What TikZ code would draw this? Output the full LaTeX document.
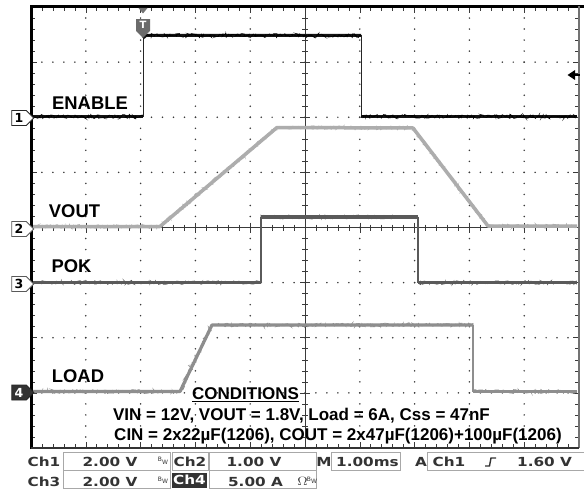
\documentclass[tikz,border=0pt]{standalone}
\usepackage{fontspec}
\setmainfont{Liberation Sans}
\newfontfamily\statfont{DejaVu Sans}
\usepackage{graphicx}
\usetikzlibrary{shapes.symbols,decorations.pathmorphing}
\definecolor{voutc}{HTML}{ADADAD}
\definecolor{pokc}{HTML}{5A5A5A}
\definecolor{loadc}{HTML}{8E8E8E}
\definecolor{dotc}{HTML}{3A3A3A}
\definecolor{boxc}{HTML}{A8A8A8}
\definecolor{statc}{HTML}{333333}
\newcommand\stt[1]{{\statfont\bfseries\fontsize{12.5}{14}\selectfont\scalebox{1.22}[1]{#1}}}
\newcommand\bwicon{{\statfont\fontsize{6}{6}\selectfont B\raisebox{-2.5pt}{W}}}
\pgfmathsetseed{7}
\tikzset{
  enab/.style={draw=black!92, line width=3pt, line join=round},
  edge1/.style={draw=black!85, line width=1pt},
  voutt/.style={draw=voutc, line width=3.5pt, line join=round},
  pokt/.style={draw=pokc, line width=3.2pt, line join=round},
  pokedge/.style={draw=pokc, line width=1.2pt},
  loadt/.style={draw=loadc, line width=3.2pt, line join=round},
  loadedge/.style={draw=loadc, line width=1.2pt},
  fuzz/.style={draw=#1, line width=0.7pt, decorate,
     decoration={random steps, segment length=1.1pt, amplitude=1.9pt}},
  tk/.style={draw=dotc, line width=0.6pt},
  lbl/.style={font=\fontsize{18.4}{20}\selectfont\bfseries, inner sep=0pt, text=black},
  cond/.style={font=\fontsize{17}{19}\selectfont\bfseries, inner sep=0pt, text=black},
  chmark/.style={signal, signal to=east, draw=#1, line width=0.9pt, fill=white,
     minimum width=22pt, minimum height=15pt, inner sep=0pt,
     font=\statfont\bfseries\fontsize{12.5}{12.5}\selectfont},
  stat/.style={inner sep=0pt, text=statc},
  boxl/.style={draw=boxc, line width=0.8pt},
}
\begin{document}
\begin{tikzpicture}[x=1pt,y=-1pt]
\useasboundingbox (0,0) rectangle (584,495);
\fill[white] (0,0) rectangle (584,495);
% dotted grid
\foreach \k in {1,2,3,4,6,7,8,9}{
  \foreach \m in {1,...,39}{
    \fill[dotc] ({31+\k*54.8},{7+\m*11.025}) circle (0.85pt);
  }
}
\foreach \j in {1,2,3,5,6,7}{
  \foreach \m in {1,...,49}{
    \fill[dotc] ({31+\m*10.96},{7+\j*55.125}) circle (0.85pt);
  }
}
% center lines with ticks
\draw[tk] (31,227.5) -- (579,227.5);
\draw[tk] (305,7) -- (305,448);
\foreach \m in {1,...,49}{
  \pgfmathsetmacro\L{mod(\m,5)==0 ? 5 : 3}
  \draw[tk] ({31+\m*10.96},{227.5-\L}) -- ++(0,{2*\L});
  \draw[tk] ({31+\m*10.96},7) -- ++(0,{\L+1});
  \draw[tk] ({31+\m*10.96},448) -- ++(0,{-\L-1});
}
\foreach \m in {1,...,39}{
  \pgfmathsetmacro\L{mod(\m,5)==0 ? 5 : 3}
  \draw[tk] ({305-\L},{7+\m*11.025}) -- ++({2*\L},0);
  \draw[tk] (31,{7+\m*11.025}) -- ++({\L+1},0);
  \draw[tk] (579,{7+\m*11.025}) -- ++({-\L-1},0);
}
% frame
\draw[draw=black, line width=3pt] (31,449) -- (31,6.5) -- (584,6.5);
\draw[draw=black!55, line width=1.5pt] (579,6.5) -- (579,448);
\draw[draw=black!80, line width=1.2pt] (31,448) -- (579,448);
% traces
% VOUT
\draw[voutt] (33,226.5) -- (160,226.5) -- (277,127.5) -- (413,128) -- (488,226) -- (577,226);
\draw[fuzz=voutc] (33,226.5) -- (160,226.5) -- (277,127.5) -- (413,128) -- (488,226) -- (577,226);
% LOAD
\draw[loadt] (33,391.5) -- (180,391.5) -- (212,325) -- (473,325);
\draw[fuzz=loadc] (33,391.5) -- (180,391.5) -- (212,325) -- (473,325);
\draw[loadedge] (473,325) -- (473,391.5);
\draw[loadt] (473,391.5) -- (577,391.5);
\draw[fuzz=loadc] (473,391.5) -- (577,391.5);
% POK
\draw[pokt] (33,282.5) -- (261,282.5);
\draw[fuzz=pokc] (33,282.5) -- (261,282.5);
\draw[pokedge] (261,282.5) -- (261,217);
\draw[pokt] (261,217) -- (418,217);
\draw[fuzz=pokc] (261,217) -- (418,217);
\draw[pokedge] (418,217) -- (418,282.5);
\draw[pokt] (418,282.5) -- (577,282.5);
\draw[fuzz=pokc] (418,282.5) -- (577,282.5);
% ENABLE
\draw[enab] (33,116.5) -- (143,116.5);
\draw[fuzz=black] (33,116.5) -- (143,116.5);
\draw[edge1] (143,116.5) -- (143,36);
\draw[enab] (143,38) -- (146,35.5) -- (361,35.5);
\draw[fuzz=black] (146,35.5) -- (361,35.5);
\draw[edge1] (361,35.5) -- (361,116.5);
\draw[enab] (361,116.5) -- (577,116.5);
\draw[fuzz=black] (361,116.5) -- (577,116.5);
% channel markers
\node[chmark=black!85] (m1) at (19,118) {1};
\node[chmark=black!65] (m2) at (19,229) {2};
\node[chmark=black!65] (m3) at (19,284) {3};
\node[chmark=black!85, fill=black!80, text=white] (m4) at (19,392.5) {4};
% trigger marker
\fill[black!55] (138.5,8) -- (147.5,8) -- (143,13.5) -- cycle;
\node[signal, signal to=south, fill=black!58, text=white, minimum width=14pt,
  minimum height=15pt, inner sep=0pt, font=\statfont\bfseries\fontsize{10}{10}\selectfont]
  (trig) at (143,25) {T};
% trigger level arrow
\fill[black] (567.5,75) -- (575,70) -- (575,80) -- cycle;
\draw[black, line width=1.8pt] (574,75) -- (580,75);
% labels
\node[lbl] (lenable) at (90,103.5) {ENABLE};
\node[lbl] (lvout) at (74.5,211.5) {VOUT};
\node[lbl] (lpok) at (71.5,266.5) {POK};
\node[lbl] (lload) at (78,376.5) {LOAD};
\node[cond] (lcond) at (245.5,395) {\underline{CONDITIONS}};
\node[cond] (lvin) at (301.5,415.5) {VIN = 12V, VOUT = 1.8V, Load = 6A, Css = 47nF};
\node[cond] (lcin) at (338,436.5) {CIN = 2x22µF(1206), COUT = 2x47µF(1206)+100µF(1206)};
% status bar
\draw[boxl] (63,452) rectangle (170,470);
\draw[boxl] (63,470) rectangle (170,488);
\draw[boxl] (172,452) rectangle (208,470);
\draw[boxl] (209,452) rectangle (316,470);
\draw[boxl] (209,470) rectangle (316,488);
\draw[boxl] (331,452) rectangle (400,470);
\draw[boxl] (427,452) rectangle (590,470);
\node[stat] (sch1) at (44,462) {\stt{Ch1}};
\node[stat] (sch3) at (44,481.5) {\stt{Ch3}};
\node[stat] (sv1) at (110,462) {\stt{2.00 V}};
\node[stat] (sv3) at (110,481.5) {\stt{2.00 V}};
\node[stat] (sbw1) at (163,461) {\bwicon};
\node[stat] (sbw3) at (163,480.5) {\bwicon};
\node[stat] (sch2) at (190,462) {\stt{Ch2}};
\node[fill=statc, text=white, minimum width=35pt, minimum height=15pt, inner sep=0pt]
  (sch4) at (189.5,480) {\stt{Ch4}};
\node[stat] (sv2) at (254,462) {\stt{1.00 V}};
\node[stat] (sv4) at (255.5,481.5) {\stt{5.00 A}};
\node[stat] (somega) at (302.5,481.5) {\stt{$\Omega$}};
\node[stat] (sbw4) at (312,480.5) {\bwicon};
\node[stat] (sm) at (324,462) {\stt{M}};
\node[stat] (stime) at (367.5,462) {\stt{1.00ms}};
\node[stat] (sa) at (421,462) {\stt{A}};
\node[stat] (stch) at (449,462) {\stt{Ch1}};
\draw[statc, line width=1.4pt] (485,466) -- (489.5,466) -- (491,458) -- (496,458);
\node[stat, anchor=west] (slev) at (517,462) {\stt{1.60 V}};
\end{tikzpicture}
\end{document}
